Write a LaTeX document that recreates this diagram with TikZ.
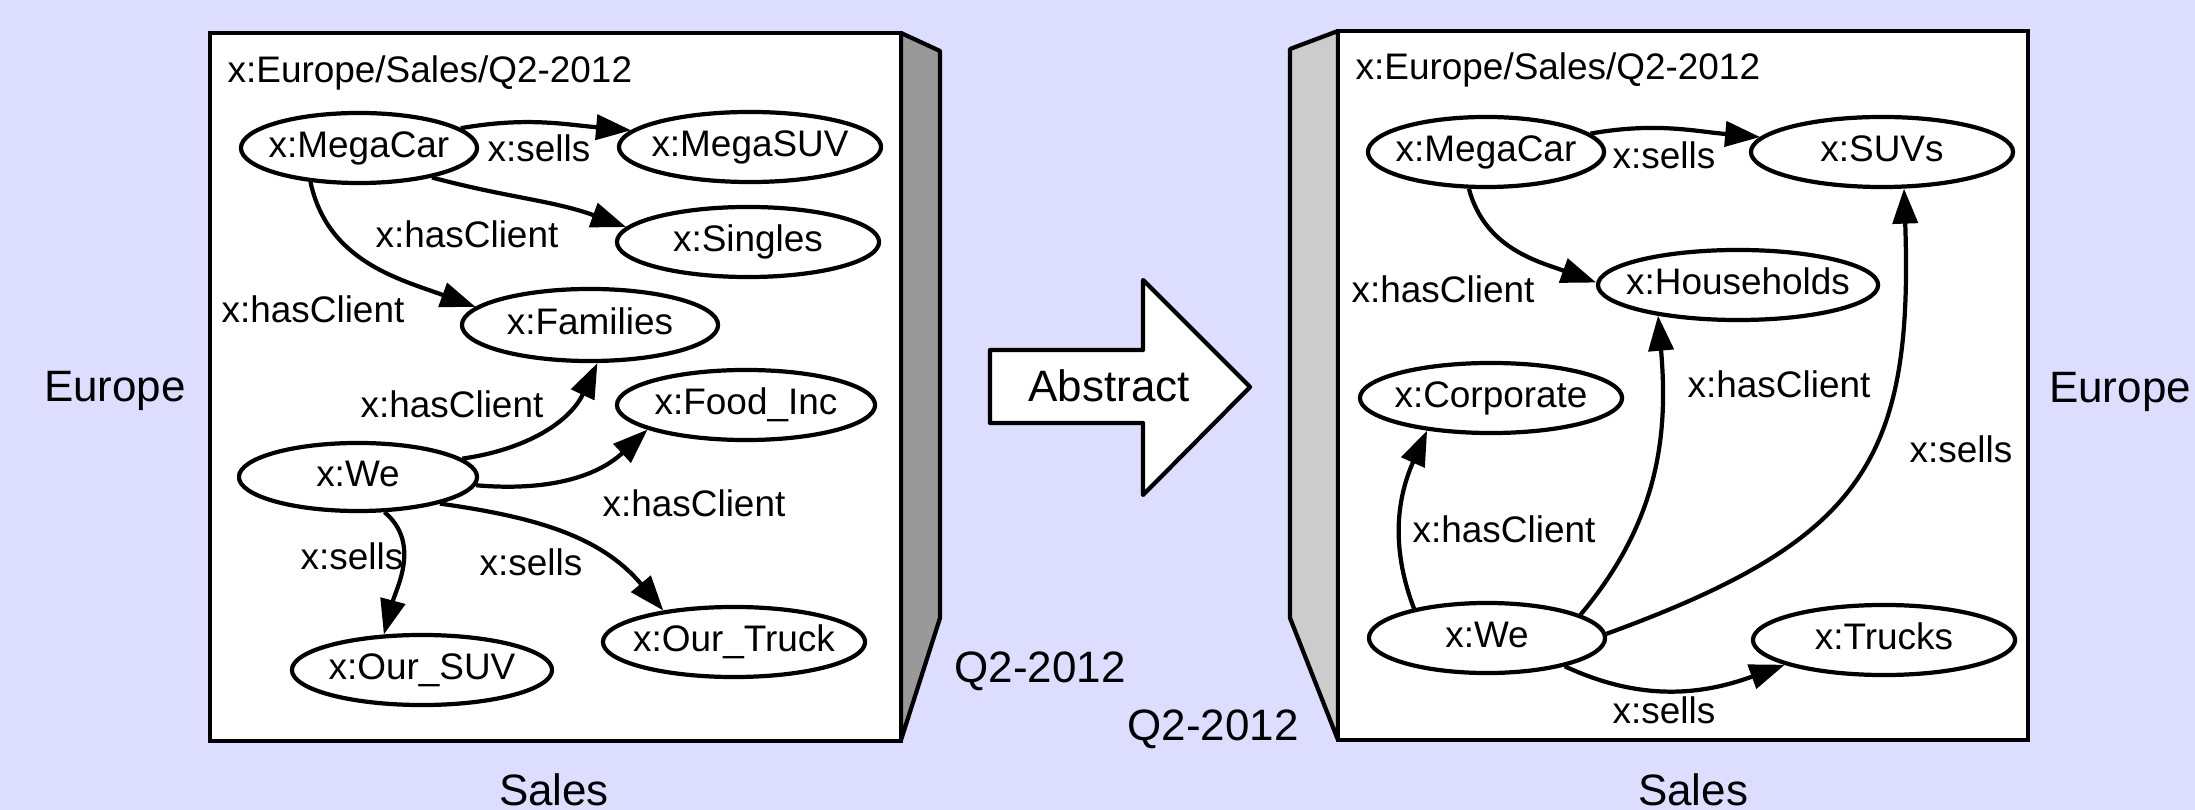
\documentclass[tikz,border=0pt]{standalone}
\usepackage{fontspec}
\setmainfont{Liberation Sans}
\usetikzlibrary{shapes.geometric,arrows.meta}
\definecolor{bgblue}{RGB}{221,221,255}
\definecolor{sidedark}{RGB}{153,153,153}
\definecolor{sidelight}{RGB}{204,204,204}
\tikzset{>={Triangle[length=0.35cm,width=0.25cm]},
  res/.style={draw,ellipse,line width=1.2pt,fill=white,inner xsep=-0.4cm,inner ysep=0pt,
    minimum height=0.70cm,text height=0.265cm,text depth=0.08cm,font=\fontsize{10.5}{12}\selectfont},
  lbl/.style={anchor=base,inner sep=0pt,font=\fontsize{10.5}{12}\selectfont},
  dim/.style={anchor=base,inner sep=0pt,font=\fontsize{12.5}{15}\selectfont},
  rel/.style={->,line width=1.2pt}}

\begin{document}
\begin{tikzpicture}[x=0.01cm,y=-0.01cm]
\fill[bgblue] (0,0) rectangle (2195,810);
\useasboundingbox (0,0) rectangle (2195,810);
\draw [line width=1.2pt,fill=sidedark,line join=round] (901,33) -- (940,51) -- (940,618) -- (901,740) -- cycle;
\draw [line width=1.2pt,fill=white] (210,33) rectangle (901,741);
\draw [line width=1.2pt,fill=sidelight,line join=round] (1338,31) -- (1290,49) -- (1290,618) -- (1338,740) -- cycle;
\draw [line width=1.2pt,fill=white] (1338,31) rectangle (2028,740);
\draw [line width=1.2pt,fill=white,line join=round] (990,350) -- (1143,350) -- (1143,280) -- (1250,387) -- (1143,495) -- (1143,423) -- (990,423) -- cycle;

\node[res,minimum width=2.36cm] (lMegaCar) at (359,148) {x:MegaCar};
\node[res,minimum width=2.62cm] (lMegaSUV) at (750,147) {x:MegaSUV};
\node[res,minimum width=2.62cm] (lSingles) at (748,242) {x:Singles};
\node[res,minimum width=2.56cm,minimum height=0.72cm] (lFamilies) at (590,325) {x:Families};
\node[res,minimum width=2.58cm] (lFood) at (746,405) {x:Food\_Inc};
\node[res,minimum width=2.38cm,minimum height=0.68cm] (lWe) at (358,477) {x:We};
\node[res,minimum width=2.60cm] (lOurSUV) at (422,670) {x:Our\_SUV};
\node[res,minimum width=2.62cm] (lOurTruck) at (734,642) {x:Our\_Truck};

\draw [rel] (lMegaCar.11) to[out=10,in=175] (lMegaSUV.172);
\draw [rel] (lMegaCar.-22) to[out=-15,in=160] (lSingles.173);
\draw [rel] (lMegaCar.215) to[out=-78,in=160] (lFamilies.171);
\draw [rel] (lWe.10) to[out=8,in=245] (lFamilies.-79);
\draw [rel] (lWe.-4) to[out=-5,in=223] (lFood.194);
\draw [rel] (lWe.-18) to[out=-8,in=130] (lOurTruck.156);
\draw [rel] (lWe.-53) to[out=-40,in=75] (lOurSUV.137);

\node[lbl,anchor=base west] (ltitle) at (227,83) {x:Europe/Sales/Q2-2012};
\node[lbl] (lsells1) at (539,162) {x:sells};
\node[lbl] (lhas1) at (467,248) {x:hasClient};
\node[lbl] (lhas2) at (313,323) {x:hasClient};
\node[lbl] (lhas3) at (452,418) {x:hasClient};
\node[lbl] (lhas4) at (694,516) {x:hasClient};
\node[lbl] (lsells2) at (352,569) {x:sells};
\node[lbl] (lsells3) at (531,575) {x:sells};

\node[res,minimum width=2.36cm] (rMegaCar) at (1486,152) {x:MegaCar};
\node[res,minimum width=2.62cm] (rSUVs) at (1882,152) {x:SUVs};
\node[res,minimum width=2.80cm] (rHouse) at (1738,285) {x:Households};
\node[res,minimum width=2.62cm] (rCorp) at (1491,398) {x:Corporate};
\node[res,minimum width=2.36cm] (rWe) at (1487,638) {x:We};
\node[res,minimum width=2.62cm] (rTrucks) at (1884,640) {x:Trucks};

\draw [rel] (rMegaCar.10) to[out=10,in=175] (rSUVs.173);
\draw [rel] (rMegaCar.245) to[out=-75,in=160] (rHouse.179);
\draw [rel] (rWe.158) to[out=111,in=246] (rCorp.207);
\draw [rel] (rWe.14) to[out=50,in=-85] (rHouse.-159);
\draw [rel] (rWe.2) to[out=20,in=-88,looseness=1.3] (rSUVs.-59);
\draw [rel] (rWe.-20) to[out=-25,in=200] (rTrucks.194);

\node[lbl,anchor=base west] (rtitle) at (1355,80) {x:Europe/Sales/Q2-2012};
\node[lbl] (rsells1) at (1664,169) {x:sells};
\node[lbl] (rhas1) at (1443,303) {x:hasClient};
\node[lbl] (rhas2) at (1779,398) {x:hasClient};
\node[lbl] (rsells2) at (1961,463) {x:sells};
\node[lbl] (rhas3) at (1504,542) {x:hasClient};
\node[lbl] (rsells3) at (1664,723) {x:sells};

\node[dim] (leurope) at (115,402) {Europe};
\node[dim] (lquarter) at (1040,682) {Q2-2012};
\node[dim] (lsales) at (554,805) {Sales};
\node[dim] (reurope) at (2120,403) {Europe};
\node[dim] (rquarter) at (1213,740) {Q2-2012};
\node[dim] (rsales) at (1693,805) {Sales};
\node[dim] (abstract) at (1109,402) {Abstract};
\end{tikzpicture}
\end{document}
